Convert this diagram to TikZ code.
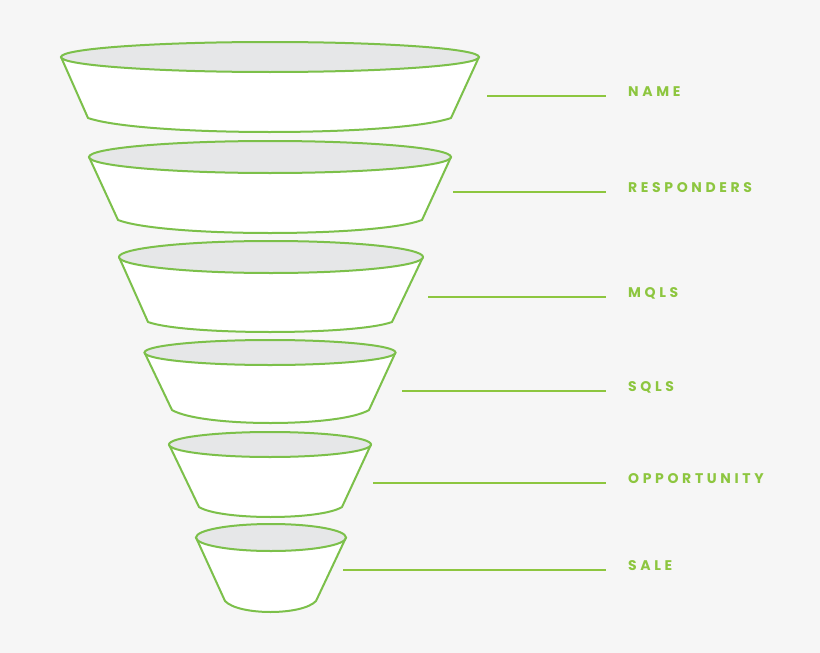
\documentclass[tikz,border=0pt]{standalone}
\usepackage{fontspec}
\usepackage{tikz}
\usetikzlibrary{positioning, calc}
\newfontfamily\stagefont[LetterSpace=26]{Poppins}
\definecolor{funnelgreen}{HTML}{7CC04A}
\definecolor{stagegreen}{HTML}{8DC63F}
\definecolor{rimgray}{HTML}{E6E7E8}
\definecolor{bggray}{HTML}{F6F6F6}
\tikzset{
    body/.style={draw=funnelgreen, line width=2pt, fill=white, line join=round},
    rim/.style={draw=funnelgreen, line width=2pt, fill=rimgray},
    leader/.style={draw=stagegreen, line width=1.5pt},
    stage/.style={text=stagegreen, font=\stagefont\bfseries\fontsize{14}{14}\selectfont, inner sep=0pt}
}

\begin{document}
\begin{tikzpicture}[x=1pt, y=-1pt]
        \fill[bggray] (0,0) rectangle (820,653);
        \useasboundingbox (0,0) rectangle (820,653);

        % funnel tiers: centre x/y, rim radii, bottom corners, lowest point
        \foreach \cx/\cy/\rx/\ry/\bl/\br/\by/\lo in {
            270/57/209/15/88/451/118/132,
            270/157/181/16/118/422/220/233,
            271/257/152/16/148/392/322/332,
            270/352.5/125.5/12.5/172/369/410/423,
            270/444.5/101/12.5/199/342/507/517,
            271/537.5/75/13.5/225/316/601/612} {
            \draw[body] ({\cx-\rx},\cy) -- (\bl,\by)
                .. controls ({\bl+0.15*(\br-\bl)},{\by+4/3*(\lo-\by)}) and ({\br-0.15*(\br-\bl)},{\by+4/3*(\lo-\by)}) .. (\br,\by)
                -- ({\cx+\rx},\cy) -- cycle;
            \draw[rim] (\cx,\cy) ellipse [x radius=\rx pt, y radius=\ry pt];
        }

        \coordinate (nameS) at (487,96);
        \coordinate (nameE) at (606,96);
        \coordinate (respS) at (453,192);
        \coordinate (respE) at (606,192);
        \coordinate (mqlS) at (428,297);
        \coordinate (mqlE) at (606,297);
        \coordinate (sqlS) at (402,391);
        \coordinate (sqlE) at (606,391);
        \coordinate (oppS) at (373,483);
        \coordinate (oppE) at (606,483);
        \coordinate (saleS) at (343,570);
        \coordinate (saleE) at (606,570);

        \node[stage, right=22pt of nameE, anchor=base west] (name) {NAME};
        \node[stage, right=22pt of respE, anchor=base west] (resp) {RESPONDERS};
        \node[stage, right=22pt of mqlE, anchor=base west] (mql) {MQLS};
        \node[stage, right=22pt of sqlE, anchor=base west] (sql) {SQLS};
        \node[stage, right=22pt of oppE, anchor=base west] (opp) {OPPORTUNITY};
        \node[stage, right=22pt of saleE, anchor=base west] (sale) {SALE};

        \draw[leader] (nameS) -- (nameE);
        \draw[leader] (respS) -- (respE);
        \draw[leader] (mqlS) -- (mqlE);
        \draw[leader] (sqlS) -- (sqlE);
        \draw[leader] (oppS) -- (oppE);
        \draw[leader] (saleS) -- (saleE);
    \end{tikzpicture}
\end{document}
